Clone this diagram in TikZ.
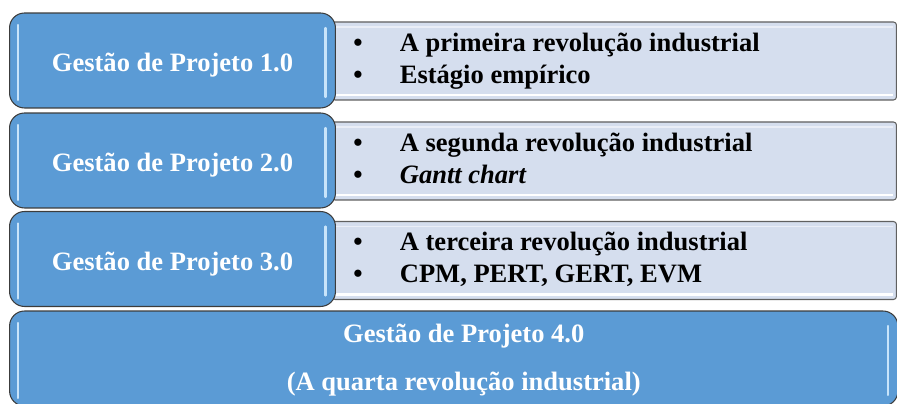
\documentclass[tikz,border=0pt]{standalone}
\usepackage{fontspec}
\setmainfont{Liberation Serif}
\usetikzlibrary{positioning}
\definecolor{gpblue}{RGB}{91,155,213}
\definecolor{gpshine}{RGB}{200,228,250}
\definecolor{gplight}{RGB}{213,222,238}
\definecolor{gpedge}{RGB}{60,60,60}

\begin{document}
\begin{tikzpicture}[x=0.02cm, y=-0.02cm,
                    font=\fontsize{15.1}{18.2}\selectfont\bfseries]

        % Setup the styles for the boxes
        \tikzset{stage box/.style={draw=gpedge,
                                   line width=0.6pt,
                                   fill=gpblue,
                                   rounded corners=0.3cm,
                                   minimum width=6.52cm,
                                   minimum height=1.9cm,
                                   text height=0.56cm,
                                   text depth=0.1cm,
                                   text=white,
                                   path picture={
                                     \draw[gpshine, line width=1.2pt, line cap=round]
                                       ([xshift=0.17cm, yshift=-0.24cm]path picture bounding box.north west) --
                                       ([xshift=0.17cm, yshift=0.16cm]path picture bounding box.south west);
                                     \draw[gpshine, line width=1.2pt, line cap=round]
                                       ([xshift=-0.2cm, yshift=-0.3cm]path picture bounding box.north east) --
                                       ([xshift=-0.2cm, yshift=0.22cm]path picture bounding box.south east);}},
                 list box/.style={draw=gray!75!black,
                                  line width=0.6pt,
                                  fill=gplight,
                                  rounded corners=0.06cm,
                                  minimum width=11.29cm,
                                  minimum height=1.56cm,
                                  path picture={
                                    \draw[white, line width=1.4pt]
                                      ([yshift=0.1cm]path picture bounding box.south west) --
                                      ([xshift=-0.06cm, yshift=0.1cm]path picture bounding box.south east);
                                    \draw[white!50!gplight, line width=1pt]
                                      ([yshift=-0.1cm]path picture bounding box.north west) --
                                      ([xshift=-0.06cm, yshift=-0.1cm]path picture bounding box.north east);}},
                 list text/.style={anchor=west, align=left, inner sep=0pt}}

        \clip (0, 0) rectangle (897, 404);

        % Draw the bullet lists behind the stages
        \node[list box] at (614.25, 61)  (L1) {};
        \node[list box] at (614.25, 161) (L2) {};
        \node[list box] at (614.25, 260.5) (L3) {};

        \node[list text] at ([xshift=0.43cm]L1.west) (T1)
            {\makebox[0.93cm][l]{\textbullet}A primeira revolução industrial\strut\\
             \makebox[0.93cm][l]{\textbullet}Estágio empírico\strut};
        \node[list text] at ([xshift=0.43cm]L2.west) (T2)
            {\makebox[0.93cm][l]{\textbullet}A segunda revolução industrial\strut\\
             \makebox[0.93cm][l]{\textbullet}\textit{Gantt chart}\strut};
        \node[list text] at ([xshift=0.43cm]L3.west) (T3)
            {\makebox[0.93cm][l]{\textbullet}A terceira revolução industrial\strut\\
             \makebox[0.93cm][l]{\textbullet}CPM, PERT, GERT, EVM\strut};

        % Draw the stages
        \node[stage box] at (172.5, 60.5)  (G1) {Gestão de Projeto 1.0};
        \node[stage box] at (172.5, 160.5) (G2) {Gestão de Projeto 2.0};
        \node[stage box] at (172.5, 259)   (G3) {Gestão de Projeto 3.0};
        \node[stage box, minimum width=17.77cm] at (453.75, 358.5) (G4) {};
        \node[text=white, align=center] at ([xshift=0.2cm, yshift=-0.04cm]G4.center) (T4)
            {Gestão de Projeto 4.0\\[0.32cm](A quarta revolução industrial)};
    \end{tikzpicture}
\end{document}
